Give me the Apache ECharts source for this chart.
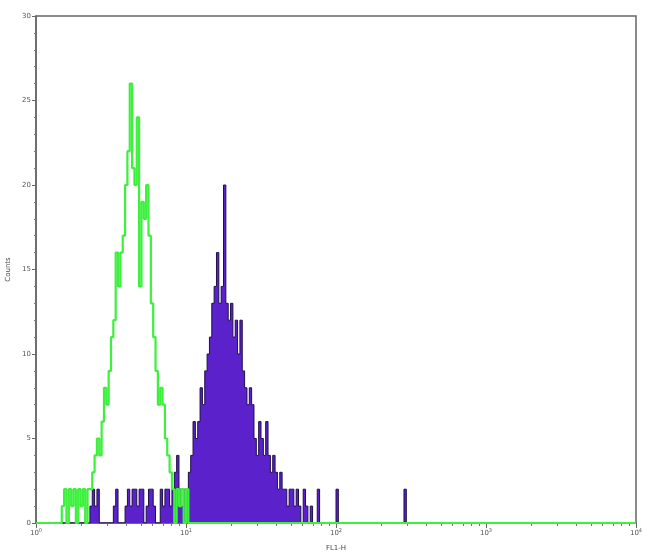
<!DOCTYPE html>
<html>
<head>
<meta charset="utf-8">
<script src="https://cdn.jsdelivr.net/npm/echarts@6/dist/echarts.min.js"></script>
<style>html,body{margin:0;padding:0;background:#fff}#c{width:650px;height:559px}</style>
</head>
<body>
<div id="c"></div>
<script>
// Channel scale: 256 channels spanning 4 decades (10^0 .. 10^4)
const channelCount = 256;
const decadeLabels = ['0', '1', '2', '3', '4'];
const yTicks = [0, 5, 10, 15, 20, 25, 30];

// Isotype control (green outline), counts per channel starting at greenStart
const greenStart = 11;
const greenCounts = [1,2,0,2,1,2,0,2,1,2,0,2,2,3,4,5,4,6,8,7,9,11,12,16,14,16,17,20,22,26,21,20,24,14,19,18,20,17,13,11,9,7,8,7,5,4,3,2,0,2,1,2,0,2];

// Stained sample (purple filled), counts per channel starting at purpleStart
const purpleStart = 23;
const purpleCounts = [
  1,2,1,2,0,0,0,0,0,0,1,2,0,0,0,1,2,1,2,2,1,2,2,0,1,2,2,1,0,0,2,1,2,2,1,2,3,4,2,1,2,2,3,
  4,6,5,6,8,7,9,10,11,13,14,16,13,14,20,13,12,13,11,12,10,12,9,8,7,8,7,5,4,6,5,4,6,4,3,4,3,2,3,2,2,1,2,2,1,2,1,0,2,1,0,1,0,0,2,
  0,0,0,0,0,0,0,2,
  0,0,0,0,0,0,0,0,0,0,0,0,0,0,0,0,0,0,0,0,0,0,0,0,0,0,0,0,2
];

function stepSeries(start, counts) {
  const pts = [];
  for (let c = 0; c <= channelCount; c++) {
    const i = c - start;
    const v = (i >= 0 && i < counts.length) ? counts[i] : 0;
    pts.push([c, v]);
  }
  return pts;
}

const minorTickVals = [];
for (let d = 0; d < 4; d++) {
  for (let m = 2; m <= 9; m++) minorTickVals.push(channelCount / 4 * (d + Math.log10(m)));
}

const chart = echarts.init(document.getElementById('c'));
const labelRich = {
  b: { fontSize: 7, color: '#555', fontFamily: 'DejaVu Sans' },
  s: { fontSize: 5, color: '#555', fontFamily: 'DejaVu Sans', padding: [0, 0, 5, 0] }
};
chart.setOption({
  animation: false,
  backgroundColor: '#fff',
  grid: { left: 36, right: 14, top: 16, bottom: 36, show: true, borderColor: '#666', borderWidth: 1.5, containLabel: false, outerBoundsMode: 'none' },
  xAxis: [{
    type: 'value', min: 0, max: channelCount, interval: channelCount / 4,
    name: 'FL1-H', nameLocation: 'middle', nameGap: 22,
    nameTextStyle: { fontSize: 7, color: '#444', fontFamily: 'DejaVu Sans' },
    axisLine: { show: true, lineStyle: { color: '#666', width: 1.5 } },
    axisTick: { show: true, length: 5, lineStyle: { color: '#666' } },
    splitLine: { show: false },
    axisLabel: {
      margin: 5,
      formatter: function (v) { return '{b|10}{s|' + decadeLabels[Math.round(v / (channelCount / 4))] + '}'; },
      rich: labelRich
    }
  }, {
    type: 'value', min: 0, max: channelCount, position: 'bottom',
    axisLine: { show: false },
    axisTick: { show: true, length: 3, customValues: minorTickVals, lineStyle: { color: '#777' } },
    axisLabel: { show: false },
    splitLine: { show: false }
  }],
  yAxis: {
    type: 'value', min: 0, max: 30, interval: 5,
    name: 'Counts', nameLocation: 'middle', nameGap: 24, nameRotate: 90,
    nameTextStyle: { fontSize: 7, color: '#444', fontFamily: 'DejaVu Sans' },
    axisLine: { show: true, lineStyle: { color: '#666', width: 1.5 } },
    axisTick: { show: true, length: 4, lineStyle: { color: '#666' } },
    minorTick: { show: true, splitNumber: 5, length: 2, lineStyle: { color: '#777' } },
    splitLine: { show: false },
    axisLabel: { fontSize: 7, color: '#555', margin: 5, fontFamily: 'DejaVu Sans' }
  },
  series: [{
    type: 'line', step: 'end', symbol: 'none', z: 2,
    data: stepSeries(purpleStart, purpleCounts),
    lineStyle: { color: '#1e0f4a', width: 1 },
    areaStyle: { color: '#5b22cc', opacity: 1 }
  }, {
    type: 'line', step: 'end', symbol: 'none', z: 3,
    data: stepSeries(greenStart, greenCounts),
    lineStyle: { color: '#3cf03c', width: 2.2 }
  }]
});
</script>
</body>
</html>
